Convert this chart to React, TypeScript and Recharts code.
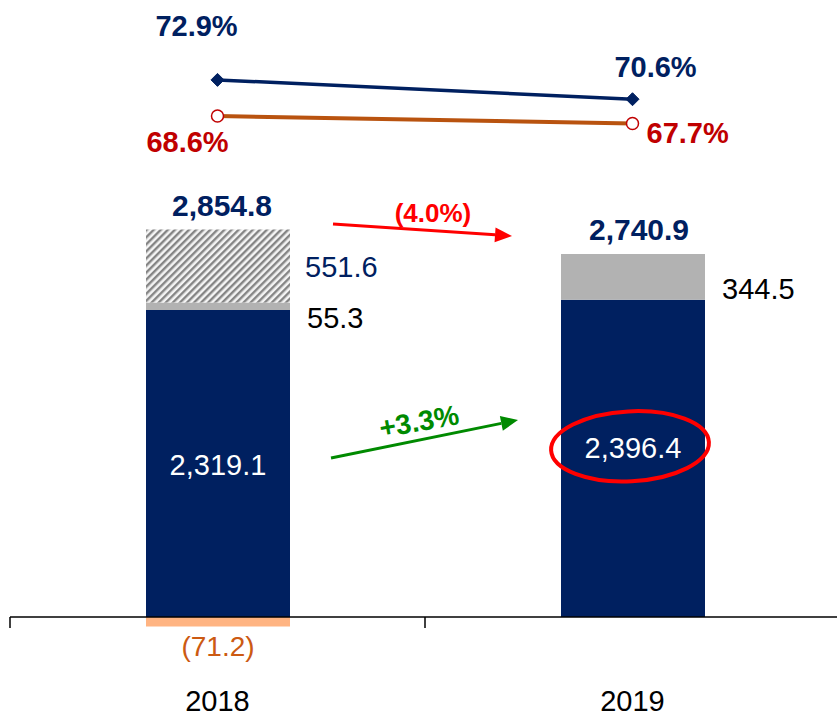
import React from 'react';
import { ComposedChart, Bar, Line, XAxis, YAxis, ReferenceLine, LabelList } from 'recharts';

const categories = ['2018', '2019'];
const coreValues = [2319.1, 2396.4];
const greyValues = [55.3, 344.5];
const hatchedValues: (number | null)[] = [551.6, null];
const negativeValues: (number | null)[] = [-71.2, null];
const totals = [2854.8, 2740.9];
const navyRatio = [72.9, 70.6];
const redRatio = [68.6, 67.7];

const data = categories.map((c, i) => ({
  cat: c,
  core: coreValues[i],
  grey: greyValues[i],
  hatched: hatchedValues[i],
  neg: negativeValues[i],
  total: totals[i],
  navy: navyRatio[i],
  red: redRatio[i],
}));

const FONT = '"Liberation Sans", Arial, sans-serif';
const NAVY = '#002060';
const DARKRED = '#C00000';
const ORANGE = '#B9530F';
const ORANGE_TEXT = '#CC5A12';

const fmt = (v: number) =>
  v.toLocaleString('en-US', { minimumFractionDigits: 1, maximumFractionDigits: 1 });

const idxOf = (props: any, arr: (number | null)[]) =>
  typeof props.index === 'number' ? props.index : arr.indexOf(props.value);

const CoreLabel = (props: any) => {
  const { x, y, width, height, value } = props;
  const i = idxOf(props, coreValues);
  const cx = x + width / 2;
  const cy = y + height / 2 + (i === 1 ? -11 : 1);
  return (
    <g>
      <text x={cx} y={cy + 10.5} textAnchor="middle" fill="#fff" fontSize={29} fontFamily={FONT}>
        {fmt(value)}
      </text>
      {i === 1 && (
        <ellipse
          cx={cx - 3}
          cy={cy - 1}
          rx={79}
          ry={35}
          fill="none"
          stroke="#FF0000"
          strokeWidth={4}
          transform={`rotate(-3 ${cx - 3} ${cy - 1})`}
        />
      )}
    </g>
  );
};

const GreyLabel = (props: any) => {
  const { x, y, width, height, value } = props;
  const i = idxOf(props, greyValues);
  const mid = y + height / 2;
  const hasHatch = hatchedValues[i] != null;
  return (
    <g>
      <text x={x + width + 17} y={mid + 22} textAnchor="start" fill="#000" fontSize={29} fontFamily={FONT}>
        {fmt(value)}
      </text>
      {!hasHatch && (
        <text x={x + width / 2 + 6} y={y - 14} textAnchor="middle" fill={NAVY} fontSize={30} fontWeight="bold" fontFamily={FONT}>
          {fmt(totals[i])}
        </text>
      )}
    </g>
  );
};

const HatchLabel = (props: any) => {
  const { x, y, width, height, value } = props;
  if (value == null) return null;
  const i = idxOf(props, hatchedValues);
  return (
    <g>
      <text x={x + width + 15} y={y + height / 2 + 10.5} textAnchor="start" fill={NAVY} fontSize={29} fontFamily={FONT}>
        {fmt(value)}
      </text>
      <text x={x + width / 2 + 4} y={y - 14} textAnchor="middle" fill={NAVY} fontSize={30} fontWeight="bold" fontFamily={FONT}>
        {fmt(totals[i])}
      </text>
    </g>
  );
};

const NegLabel = (props: any) => {
  const { x, y, width, height, value } = props;
  if (value == null) return null;
  const bottom = Math.max(y, y + height);
  return (
    <text x={x + width / 2} y={bottom + 30} textAnchor="middle" fill={ORANGE_TEXT} fontSize={28} fontFamily={FONT}>
      {`(${fmt(Math.abs(value))})`}
    </text>
  );
};

const NavyPctLabel = (props: any) => {
  const { x, y, value } = props;
  const i = idxOf(props, navyRatio);
  const dx = i === 0 ? -21 : 23;
  const dy = i === 0 ? -44 : -22;
  return (
    <text x={x + dx} y={y + dy} textAnchor="middle" fill={NAVY} fontSize={29} fontWeight="bold" fontFamily={FONT}>
      {`${value.toFixed(1)}%`}
    </text>
  );
};

const RedPctLabel = (props: any) => {
  const { x, y, value } = props;
  const i = idxOf(props, redRatio);
  if (i === 0) {
    return (
      <text x={x - 30} y={y + 36} textAnchor="middle" fill={DARKRED} fontSize={29} fontWeight="bold" fontFamily={FONT}>
        {`${value.toFixed(1)}%`}
      </text>
    );
  }
  return (
    <text x={x + 14} y={y + 19} textAnchor="start" fill={DARKRED} fontSize={29} fontWeight="bold" fontFamily={FONT}>
      {`${value.toFixed(1)}%`}
    </text>
  );
};

const Diamond = (props: any) => {
  const { cx, cy } = props;
  if (cx == null || cy == null) return null;
  const s = 6.5;
  return (
    <polygon
      points={`${cx - s},${cy} ${cx},${cy - s} ${cx + s},${cy} ${cx},${cy + s}`}
      fill={NAVY}
      stroke={NAVY}
      strokeWidth={1}
    />
  );
};

const OpenCircle = (props: any) => {
  const { cx, cy } = props;
  if (cx == null || cy == null) return null;
  return <circle cx={cx} cy={cy} r={6} fill="#fff" stroke={DARKRED} strokeWidth={1.5} />;
};

const CatTick = (props: any) => {
  const { x, y, payload } = props;
  return (
    <text x={x} y={y + 31} textAnchor="middle" fill="#000" fontSize={29} fontFamily={FONT}>
      {payload.value}
    </text>
  );
};

const arrow = (x1: number, y1: number, x2: number, y2: number, color: string, w: number) => {
  const len = Math.hypot(x2 - x1, y2 - y1);
  const ux = (x2 - x1) / len;
  const uy = (y2 - y1) / len;
  const hl = 17;
  const hw = 7.5;
  const bx = x2 - ux * hl;
  const by = y2 - uy * hl;
  const px = -uy;
  const py = ux;
  return (
    <g>
      <line x1={x1} y1={y1} x2={bx} y2={by} stroke={color} strokeWidth={w} />
      <polygon
        points={`${x2},${y2} ${bx + px * hw},${by + py * hw} ${bx - px * hw},${by - py * hw}`}
        fill={color}
      />
    </g>
  );
};

export default function App() {
  return (
    <div
      style={{
        position: 'absolute',
        left: 0,
        top: 0,
        width: 837,
        height: 717,
        overflow: 'hidden',
        background: '#fff',
      }}
    >
      <svg width={0} height={0} style={{ position: 'absolute' }}>
        <defs>
          <pattern id="hatch" patternUnits="userSpaceOnUse" width={5} height={5} patternTransform="rotate(45)">
            <rect width={5} height={5} fill="#f4f4f4" />
            <rect width={2.4} height={5} fill="#858585" />
          </pattern>
        </defs>
      </svg>
      <ComposedChart
        width={850}
        height={717}
        data={data}
        margin={{ top: 0, right: 10, left: 10, bottom: 0 }}
        stackOffset="sign"
      >
        <XAxis
          dataKey="cat"
          axisLine={false}
          tickLine={false}
          tickSize={0}
          tickMargin={0}
          height={37}
          interval={0}
          tick={<CatTick />}
        />
        <YAxis yAxisId="val" hide type="number" domain={[-476, 4660]} allowDataOverflow />
        <YAxis yAxisId="pct" hide orientation="right" type="number" domain={[1.46, 82.41]} allowDataOverflow />
        <Bar yAxisId="val" dataKey="core" stackId="s" fill={NAVY} barSize={144} isAnimationActive={false}>
          <LabelList dataKey="core" content={<CoreLabel />} />
        </Bar>
        <Bar yAxisId="val" dataKey="grey" stackId="s" fill="#B2B2B2" barSize={144} isAnimationActive={false}>
          <LabelList dataKey="grey" content={<GreyLabel />} />
        </Bar>
        <Bar yAxisId="val" dataKey="hatched" stackId="s" fill="url(#hatch)" barSize={144} isAnimationActive={false}>
          <LabelList dataKey="hatched" content={<HatchLabel />} />
        </Bar>
        <Bar yAxisId="val" dataKey="neg" stackId="s" fill="#FFB482" barSize={144} isAnimationActive={false}>
          <LabelList dataKey="neg" content={<NegLabel />} />
        </Bar>
        <ReferenceLine yAxisId="val" y={0} stroke="#000" strokeWidth={1.5} />
        <ReferenceLine
          yAxisId="val"
          segment={[{ x: '2018', y: 0 }, { x: '2018', y: -83 }]}
          position="start"
          stroke="#000"
          strokeWidth={1.5}
        />
        <ReferenceLine
          yAxisId="val"
          segment={[{ x: '2019', y: 0 }, { x: '2019', y: -83 }]}
          position="start"
          stroke="#000"
          strokeWidth={1.5}
        />
        <Line
          yAxisId="pct"
          dataKey="navy"
          stroke={NAVY}
          strokeWidth={3.5}
          dot={<Diamond />}
          activeDot={false}
          isAnimationActive={false}
        >
          <LabelList dataKey="navy" content={<NavyPctLabel />} />
        </Line>
        <Line
          yAxisId="pct"
          dataKey="red"
          stroke={ORANGE}
          strokeWidth={4}
          dot={<OpenCircle />}
          activeDot={false}
          isAnimationActive={false}
        >
          <LabelList dataKey="red" content={<RedPctLabel />} />
        </Line>
      </ComposedChart>
      <svg width={837} height={717} style={{ position: 'absolute', left: 0, top: 0, pointerEvents: 'none' }}>
        {arrow(333, 224, 512, 236, '#FF0000', 3)}
        <text x={433} y={222} textAnchor="middle" fill="#FF0000" fontSize={26} fontWeight="bold" fontFamily={FONT}>
          (4.0%)
        </text>
        {arrow(331, 458, 518, 420, '#008A00', 3)}
        <text
          x={419}
          y={431}
          textAnchor="middle"
          fill="#008A00"
          fontSize={28}
          fontWeight="bold"
          fontFamily={FONT}
          transform="rotate(-10 419 421)"
        >
          +3.3%
        </text>
      </svg>
    </div>
  );
}
